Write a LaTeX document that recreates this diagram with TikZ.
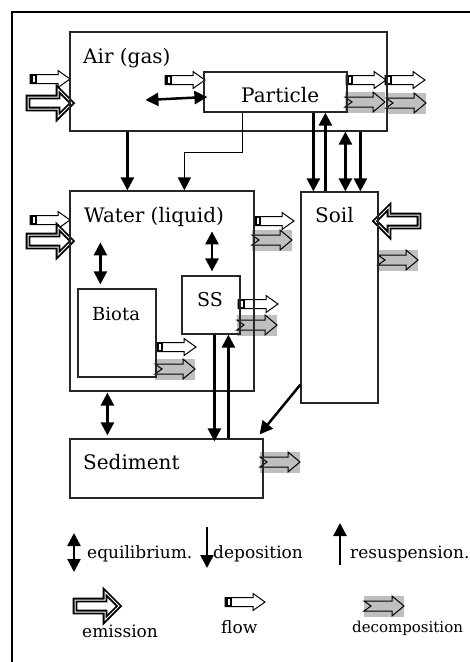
\documentclass[tikz,border=0pt]{standalone}
\usepackage{fontspec}
\setmainfont{DejaVu Serif}
\usetikzlibrary{arrows.meta}

\begin{document}
\begin{tikzpicture}[
  x=1pt, y=-1pt,
  comp/.style={draw=black!85, line width=1.2pt, inner sep=0pt},
  cname/.style={anchor=base west, inner sep=0pt, font=\fontsize{20}{24}\selectfont},
  legtext/.style={anchor=base west, inner sep=0pt, font=\fontsize{17}{20}\selectfont},
  move/.style={->, line width=2.5pt},
  both/.style={<->, line width=2.5pt},
  >={Triangle[length=13pt,width=13pt]},
  flowico/.pic={
    \draw[line width=1pt, fill=white] (0,-4.5) -- (28,-4.5) -- (28,-8.5) -- (40,0) -- (28,8.5) -- (28,4.5) -- (0,4.5) -- cycle;
    \fill (0,-4.5) rectangle (7,4.5);
    \fill[white] (3,-3) rectangle (4.5,3);
  },
  emitico/.pic={
    \draw[line width=1.8pt, double=white, double distance=1pt, fill=white]
      (0,-6) -- (30,-6) -- (30,-14) -- (44,0) -- (30,14) -- (30,6) -- (0,6) -- cycle;
  },
  decoico/.pic={
    \fill[black!25] (0,-10.5) rectangle (40,10.5);
    \draw[line width=1pt, fill=black!25] (0,-5) -- (28,-5) -- (28,-10) -- (40,0) -- (28,10) -- (28,5) -- (0,5) -- (7,0) -- cycle;
  }
]
  \path[use as bounding box, clip] (0,0) rectangle (470,662);
  \draw[line width=1.2pt] (12,12) rectangle (490,690);

  % flows, emissions and decomposition
  \pic at (30,79) {flowico};
  \pic at (28,103) {emitico};
  \pic at (165,80) {flowico};
  \pic at (346,80) {flowico};
  \pic at (385,80) {flowico};
  \pic at (345,102) {decoico};
  \pic at (386,103) {decoico};
  \pic at (30,220) {flowico};
  \pic at (28,241) {emitico};
  \pic at (254,221) {flowico};
  \pic at (252,240) {decoico};
  \pic[xscale=-1] at (419,221) {emitico};
  \pic at (378,260) {decoico};
  \pic at (238,304) {flowico};
  \pic at (237,325) {decoico};
  \pic at (156,347) {flowico};
  \pic at (155,369) {decoico};
  \pic at (260,462) {decoico};

  % compartments
  \node[comp, minimum width=317pt, minimum height=99pt] (air) at (228.5,81.5) {};
  \node[comp, minimum width=143pt, minimum height=40pt] (particle) at (275.5,92) {};
  \node[comp, minimum width=184pt, minimum height=200pt] (water) at (162,291) {};
  \node[comp, minimum width=78pt, minimum height=88pt] (biota) at (117,333) {};
  \node[comp, minimum width=58pt, minimum height=58pt] (ss) at (211,305) {};
  \node[comp, minimum width=77pt, minimum height=211pt] (soil) at (339.5,297.5) {};
  \node[comp, minimum width=193pt, minimum height=59pt] (sediment) at (166.5,468.5) {};

  \node[cname] (airtxt) at (83,63) {Air (gas)};
  \node[cname] (particletxt) at (241,102) {Particle};
  \node[cname] (watertxt) at (84,222) {Water (liquid)};
  \node[cname, font=\fontsize{18}{22}\selectfont] (biotatxt) at (92,320) {Biota};
  \node[cname, font=\fontsize{19}{22}\selectfont] (sstxt) at (197,306) {SS};
  \node[cname] (soiltxt) at (315,222) {Soil};
  \node[cname] (sedimenttxt) at (83,469) {Sediment};

  % transfers
  \draw[move] ([xshift=58pt]air.south west) -- ([xshift=58pt]water.north west);
  \draw[move, line width=1.2pt] ([xshift=39pt]particle.south west) -- ++(0,40) -| ([xshift=115pt]water.north west);
  \draw[move] ([xshift=110pt]particle.south west) -- ([xshift=13pt]soil.north west);
  \draw[move] ([xshift=25pt]soil.north west) -- ([xshift=122pt]particle.south west);
  \draw[both] ([xshift=276pt]air.south west) -- ([xshift=45pt]soil.north west);
  \draw[move] ([xshift=291pt]air.south west) -- ([xshift=60pt]soil.north west);
  \draw[both] ([xshift=76pt,yshift=-18.5pt]air.west) -- ([xshift=4pt,yshift=-5pt]particle.west);
  \draw[both] ([xshift=23pt,yshift=46pt]biota.north west) -- ([xshift=23pt,yshift=4pt]biota.north west);
  \draw[both] ([xshift=1pt,yshift=44pt]ss.north) -- ([xshift=1pt,yshift=4pt]ss.north);
  \draw[move] ([xshift=33pt]ss.south west) -- ([xshift=145pt,yshift=-3pt]sediment.north west);
  \draw[move] ([xshift=159pt]sediment.north west) -- ([xshift=47pt]ss.south west);
  \draw[both] ([xshift=38pt,yshift=-1pt]water.south west) -- ([xshift=38pt,yshift=3pt]sediment.north west);
  \draw[move] ([yshift=19pt]soil.south west) -- ([xshift=-4pt,yshift=4pt]sediment.north east);

  % legend
  \coordinate (eqtop) at (74,533);
  \coordinate (eqbot) at (74,572);
  \coordinate (deptop) at (207,527);
  \coordinate (depbot) at (207,568);
  \coordinate (resbot) at (340,565);
  \coordinate (restop) at (340,523);
  \draw[both] (eqtop) -- (eqbot);
  \draw[move] (deptop) -- (depbot);
  \draw[move] (resbot) -- (restop);
  \node[legtext] (eqtxt) at (87,558) {equilibrium.};
  \node[legtext] (deptxt) at (213,558) {deposition};
  \node[legtext] (restxt) at (350,558) {resuspension.};

  \pic at (75,606) {emitico};
  \pic at (225,602) {flowico};
  \pic at (364,606) {decoico};
  \node[legtext] (emtxt) at (82,637) {emission};
  \node[legtext] (flowtxt) at (221,633) {flow};
  \node[legtext, font=\fontsize{15}{18}\selectfont] (decotxt) at (352,632) {decomposition};
\end{tikzpicture}
\end{document}
